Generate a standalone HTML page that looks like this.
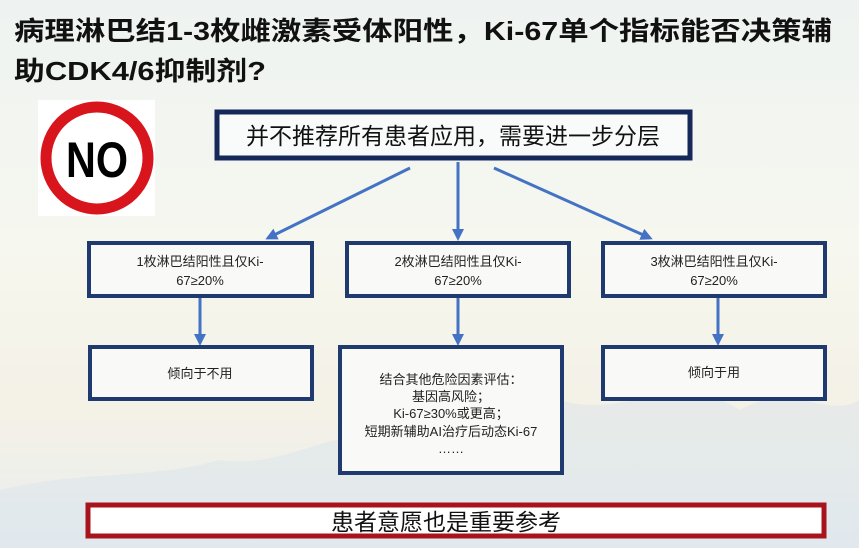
<!DOCTYPE html>
<html><head><meta charset="utf-8"><style>
html,body{margin:0;padding:0}
body{width:859px;height:548px;overflow:hidden;background:linear-gradient(180deg,#eef3f1 0%,#f6f7ef 45%,#f4f1e6 75%,#e9edf0 100%)}
svg{display:block}
text{font-family:"Liberation Sans","Noto Sans CJK SC",sans-serif}
</style></head><body>
<svg width="859" height="548" viewBox="0 0 859 548" xmlns="http://www.w3.org/2000/svg">
<defs><marker id="a" markerWidth="12" markerHeight="12" refX="9" refY="6" orient="auto" markerUnits="userSpaceOnUse"><path d="M0,0 L12,6 L0,12 z" fill="#4472c4"/></marker></defs>
<path d="M0,548 L0,490 C80,470 150,480 220,460 C290,470 340,420 400,440 C460,400 520,430 560,400 C620,420 680,370 740,410 C790,380 830,420 859,400 L859,548 Z" fill="#d7e3ea" opacity="0.45"/>
<text x="14" y="40" font-size="26" font-weight="bold" fill="#111" textLength="818" lengthAdjust="spacingAndGlyphs">病理淋巴结1-3枚雌激素受体阳性，Ki-67单个指标能否决策辅</text>
<text x="14" y="80" font-size="26" font-weight="bold" fill="#111" textLength="252" lengthAdjust="spacingAndGlyphs">助CDK4/6抑制剂?</text>
<rect x="38" y="100" width="117" height="116" fill="#fff"/>
<circle cx="97" cy="158" r="51" fill="#fff" stroke="#d8141c" stroke-width="11"/>
<text x="97" y="177" font-size="50" font-weight="bold" text-anchor="middle" fill="#000" textLength="62" lengthAdjust="spacingAndGlyphs">NO</text>
<rect x="217" y="112" width="473" height="46" fill="#f9fbfb" stroke="#14285a" stroke-width="5"/>
<text x="453" y="144" font-size="23" text-anchor="middle" fill="#111">并不推荐所有患者应用，需要进一步分层</text>
<g stroke="#4472c4" stroke-width="3" marker-end="url(#a)">
<line x1="410" y1="168" x2="268" y2="238"/>
<line x1="458" y1="162" x2="458" y2="238"/>
<line x1="494" y1="168" x2="650" y2="238"/>
<line x1="200" y1="298" x2="200" y2="343"/>
<line x1="458" y1="298" x2="458" y2="343"/>
<line x1="718" y1="298" x2="718" y2="343"/>
</g>
<g fill="#f9faf7" stroke="#1f3a6e" stroke-width="4">
<rect x="89" y="243" width="223" height="53"/>
<rect x="347" y="243" width="222" height="53"/>
<rect x="603" y="243" width="222" height="53"/>
<rect x="90" y="347" width="222" height="52"/>
<rect x="340" y="347" width="222" height="126"/>
<rect x="603" y="347" width="222" height="52"/>
</g>
<g font-size="13" fill="#222" text-anchor="middle">
<text x="200" y="266">1枚淋巴结阳性且仅Ki-</text><text x="200" y="285">67≥20%</text>
<text x="458" y="266">2枚淋巴结阳性且仅Ki-</text><text x="458" y="285">67≥20%</text>
<text x="714" y="266">3枚淋巴结阳性且仅Ki-</text><text x="714" y="285">67≥20%</text>
<text x="200" y="378">倾向于不用</text>
<text x="714" y="377">倾向于用</text>
<text x="451" y="384">结合其他危险因素评估：</text>
<text x="451" y="401">基因高风险；</text>
<text x="451" y="418">Ki-67≥30%或更高；</text>
<text x="451" y="436">短期新辅助AI治疗后动态Ki-67</text>
<text x="451" y="453">……</text>
</g>
<rect x="88" y="505" width="736" height="31" fill="#fff" stroke="#a8141c" stroke-width="5"/>
<text x="331" y="530" font-size="23" fill="#111">患者意愿也是重要参考</text>
</svg>
</body></html>
